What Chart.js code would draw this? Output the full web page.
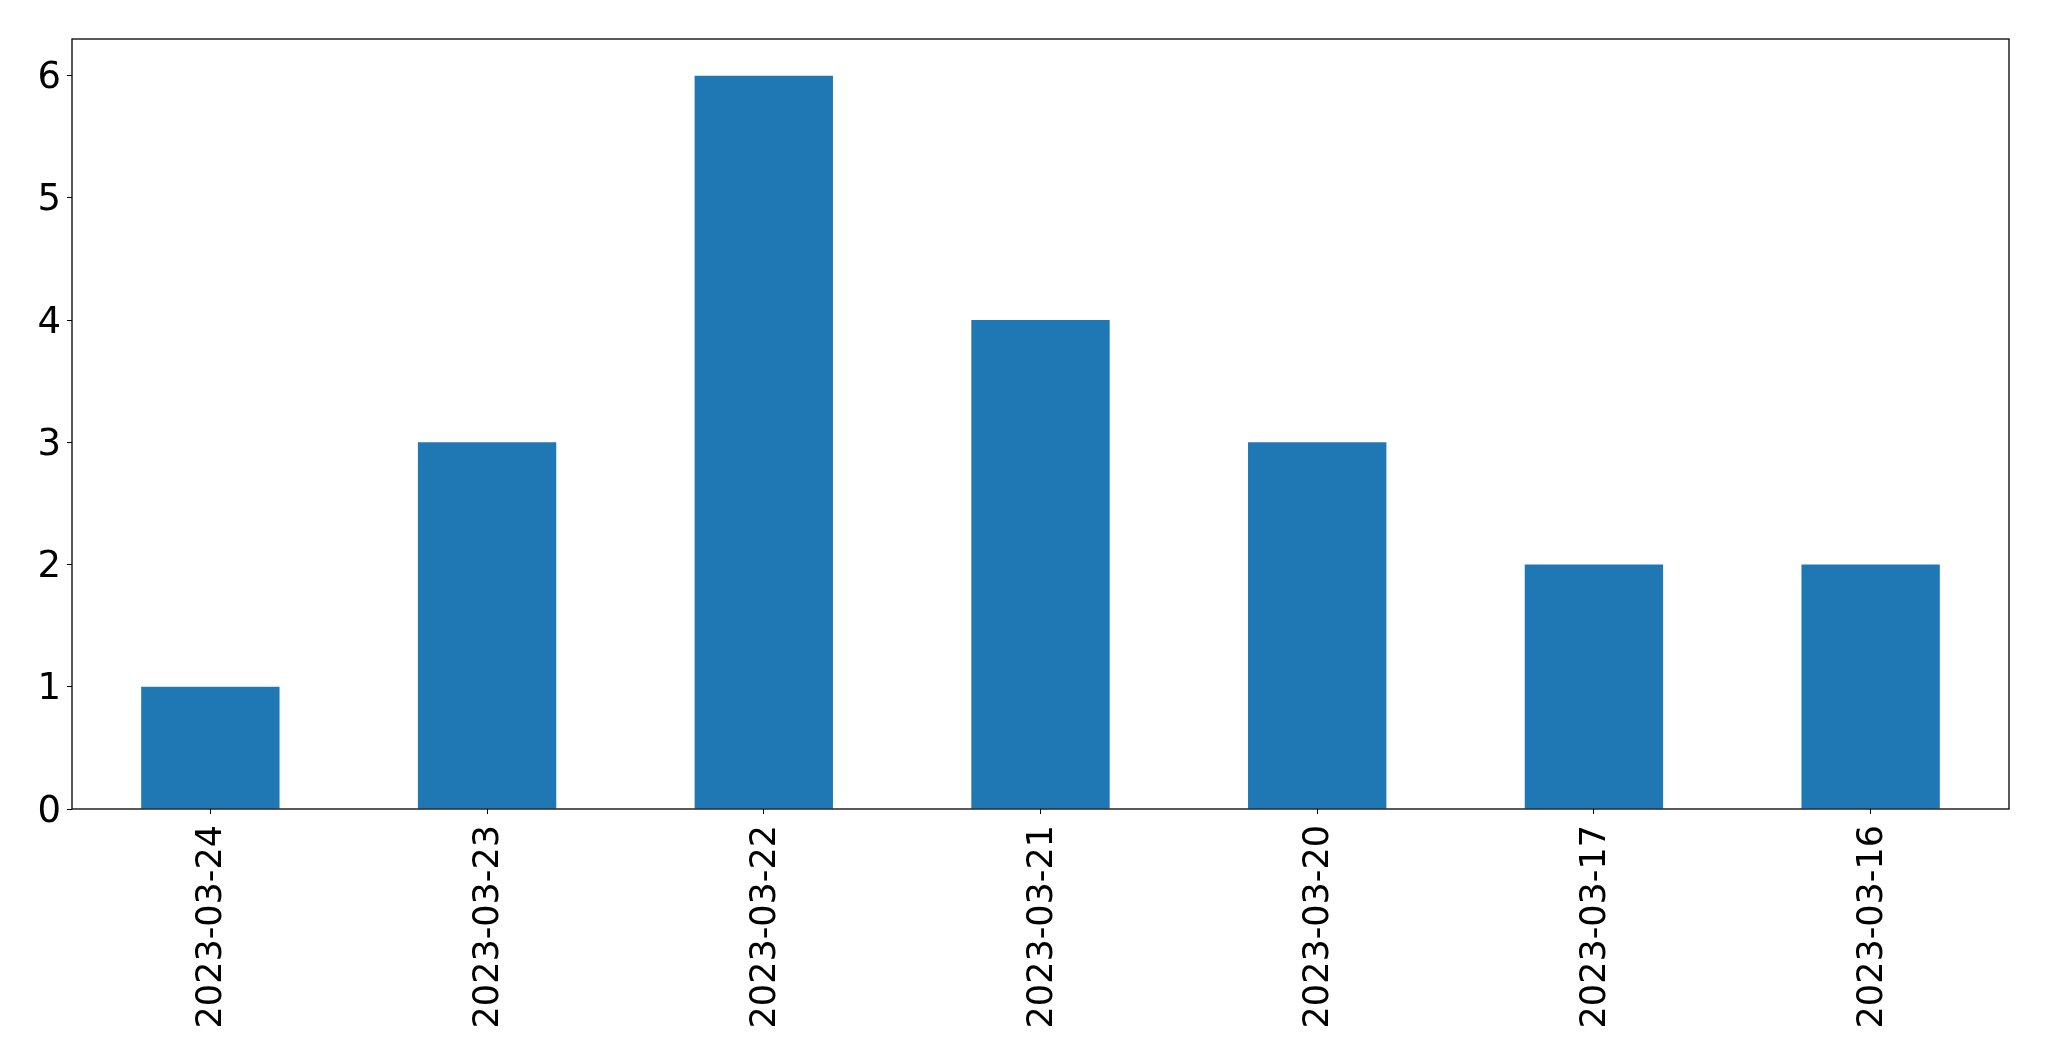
<!DOCTYPE html>
<html>
<head>
<meta charset="utf-8">
<script src="https://cdn.jsdelivr.net/npm/chart.js@4.4.0/dist/chart.umd.min.js"></script>
<style>
  html, body { margin: 0; padding: 0; background: #ffffff; }
  #wrap { width: 2049px; height: 1061px; }
</style>
</head>
<body>
<div id="wrap"><canvas id="chart" width="2049" height="1061"></canvas></div>
<script>
// Chart data
const dates = ['2023-03-24', '2023-03-23', '2023-03-22', '2023-03-21', '2023-03-20', '2023-03-17', '2023-03-16'];
const counts = [1, 3, 6, 4, 3, 2, 2];
const yTicks = [0, 1, 2, 3, 4, 5, 6];

// Draw the full box around the plot area (matplotlib style)
const frameBox = {
    id: 'frameBox',
    afterDraw(chart) {
        const { ctx, chartArea } = chart;
        ctx.save();
        ctx.strokeStyle = '#000000';
        ctx.lineWidth = 1.3;
        ctx.strokeRect(chartArea.left, chartArea.top, chartArea.right - chartArea.left, chartArea.bottom - chartArea.top);
        ctx.restore();
    }
};

document.addEventListener('DOMContentLoaded', function() {
    const ctx = document.getElementById('chart').getContext('2d');
    new Chart(ctx, {
        type: 'bar',
        data: {
            labels: dates,
            datasets: [{
                data: counts,
                backgroundColor: '#1f77b4',
                borderWidth: 0,
                barPercentage: 0.5,
                categoryPercentage: 1.0
            }]
        },
        options: {
            responsive: false,
            animation: false,
            layout: {
                padding: { left: 0, top: 39, right: 40, bottom: 0 }
            },
            plugins: {
                legend: { display: false },
                tooltip: { enabled: false }
            },
            scales: {
                x: {
                    offset: true,
                    grid: {
                        offset: false,
                        drawOnChartArea: false,
                        drawTicks: true,
                        tickLength: 5,
                        color: '#000000'
                    },
                    border: { display: false },
                    ticks: {
                        minRotation: 90,
                        maxRotation: 90,
                        autoSkip: false,
                        padding: 11,
                        labelOffset: 2,
                        color: '#000000',
                        font: { family: 'DejaVu Sans', size: 35 }
                    },
                    afterFit: function(scale) {
                        scale.height = 252;
                    }
                },
                y: {
                    min: 0,
                    max: 6.3,
                    grid: {
                        drawOnChartArea: false,
                        drawTicks: true,
                        tickLength: 5,
                        color: '#000000'
                    },
                    border: { display: false },
                    ticks: {
                        padding: 6,
                        labelOffset: 3,
                        color: '#000000',
                        font: { family: 'DejaVu Sans', size: 37 }
                    },
                    afterBuildTicks: function(scale) {
                        scale.ticks = yTicks.map(v => ({ value: v }));
                    },
                    afterFit: function(scale) {
                        scale.width = 72;
                    }
                }
            }
        },
        plugins: [frameBox]
    });
});
</script>
</body>
</html>
